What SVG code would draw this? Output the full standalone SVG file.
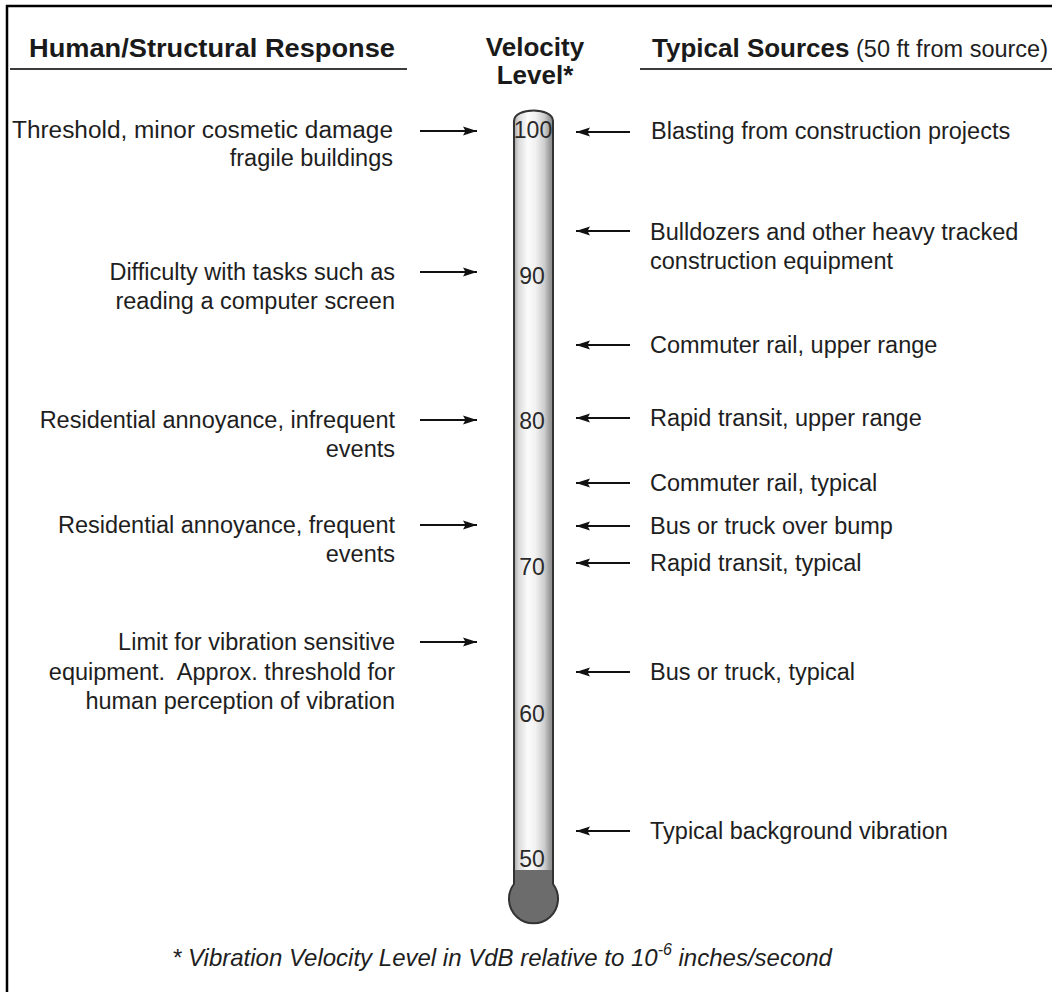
<svg xmlns="http://www.w3.org/2000/svg" width="1052" height="992" viewBox="0 0 1052 992">
  <style>
    .hd { font-family: "Liberation Sans", Arial, sans-serif; font-size: 26px; font-weight: bold; fill: #1a1a1a; }
    .tx { font-family: "Liberation Sans", Arial, sans-serif; font-size: 23.5px; fill: #1e1e1e; }
    .lt { text-anchor: end; }
    .num { font-family: "Liberation Sans", Arial, sans-serif; font-size: 23px; fill: #2a2a2a; text-anchor: middle; }
    .note { font-family: "Liberation Sans", Arial, sans-serif; font-size: 24px; font-style: italic; fill: #1e1e1e; }
    .rule { stroke: #3c3c3c; stroke-width: 2.2; }
    .arrow { stroke: #111; stroke-width: 2; fill: none; marker-end: url(#head); }
  </style>
  <defs>
    <marker id="head" markerUnits="userSpaceOnUse" markerWidth="15" markerHeight="11" refX="14" refY="5.5" orient="auto">
      <path d="M0,1 L14,5.5 L0,10 L2.5,5.5 Z" fill="#111"/>
    </marker>
    <linearGradient id="glass" gradientUnits="userSpaceOnUse" x1="514" y1="0" x2="553" y2="0">
      <stop offset="0" stop-color="#a4a4a4"/>
      <stop offset="0.12" stop-color="#dadada"/>
      <stop offset="0.35" stop-color="#fbfbfb"/>
      <stop offset="0.55" stop-color="#f1f1f1"/>
      <stop offset="0.78" stop-color="#cdcdcd"/>
      <stop offset="0.92" stop-color="#9a9a9a"/>
      <stop offset="1" stop-color="#8a8a8a"/>
    </linearGradient>
    <clipPath id="tubeClip">
      <path d="M514,121 C514,107 553,107 553,121 L553,884 A24.5,24.5 0 1 1 514,884 Z"/>
    </clipPath>
  </defs>

  <rect width="1052" height="992" fill="#fff"/>

  <!-- frame edges -->
  <g id="frame" stroke="#000" stroke-width="2.5">
    <line x1="6" y1="6" x2="1052" y2="6"/>
    <line x1="7" y1="5" x2="7" y2="992"/>
  </g>

  <!-- column headings -->
  <g id="header-response">
    <text class="hd lt" x="395" y="57" textLength="366" lengthAdjust="spacingAndGlyphs">Human/Structural Response</text>
    <line class="rule" x1="10" y1="69" x2="407" y2="69"/>
  </g>
  <g id="header-level">
    <text class="hd" x="535" y="56" text-anchor="middle">Velocity</text>
    <text class="hd" x="535" y="84" text-anchor="middle">Level*</text>
  </g>
  <g id="header-sources">
    <text class="hd" x="652" y="57">Typical Sources<tspan class="tx" style="font-weight:normal"> (50 ft from source)</tspan></text>
    <line class="rule" x1="640" y1="69" x2="1052" y2="69"/>
  </g>

  <!-- thermometer scale -->
  <g id="thermometer">
    <path d="M514,121 C514,107 553,107 553,121 L553,884 A24.5,24.5 0 1 1 514,884 Z" fill="url(#glass)"/>
    <rect x="500" y="870" width="70" height="70" fill="#6c6c6c" clip-path="url(#tubeClip)"/>
    <path d="M514,121 C514,107 553,107 553,121 L553,884 A24.5,24.5 0 1 1 514,884 Z" fill="none" stroke="#333" stroke-width="2"/>
    <text class="num" x="533" y="138">100</text>
    <text class="num" x="532" y="284">90</text>
    <text class="num" x="532" y="429">80</text>
    <text class="num" x="532" y="575">70</text>
    <text class="num" x="532" y="722">60</text>
    <text class="num" x="532" y="867">50</text>
  </g>

  <!-- human / structural responses -->
  <g id="resp-threshold">
    <text class="tx lt" x="393" y="138" textLength="381" lengthAdjust="spacingAndGlyphs">Threshold, minor cosmetic damage</text>
    <text class="tx lt" x="393" y="166">fragile buildings</text>
  </g>
  <g id="resp-difficulty">
    <text class="tx lt" x="395" y="280">Difficulty with tasks such as</text>
    <text class="tx lt" x="395" y="309">reading a computer screen</text>
  </g>
  <g id="resp-infrequent">
    <text class="tx lt" x="395" y="428">Residential annoyance, infrequent</text>
    <text class="tx lt" x="395" y="457">events</text>
  </g>
  <g id="resp-frequent">
    <text class="tx lt" x="395" y="533">Residential annoyance, frequent</text>
    <text class="tx lt" x="395" y="562">events</text>
  </g>
  <g id="resp-limit">
    <text class="tx lt" x="395" y="650">Limit for vibration sensitive</text>
    <text class="tx lt" x="395" y="680">equipment.&#160; Approx. threshold for</text>
    <text class="tx lt" x="395" y="709">human perception of vibration</text>
  </g>

  <!-- typical sources -->
  <g id="src-blasting">
    <text class="tx" x="651" y="139">Blasting from construction projects</text>
  </g>
  <g id="src-bulldozers">
    <text class="tx" x="650" y="240">Bulldozers and other heavy tracked</text>
    <text class="tx" x="650" y="269">construction equipment</text>
  </g>
  <g id="src-commuter-upper">
    <text class="tx" x="650" y="353">Commuter rail, upper range</text>
  </g>
  <g id="src-rapid-upper">
    <text class="tx" x="650" y="426">Rapid transit, upper range</text>
  </g>
  <g id="src-commuter-typical">
    <text class="tx" x="650" y="491">Commuter rail, typical</text>
  </g>
  <g id="src-bus-bump">
    <text class="tx" x="650" y="534">Bus or truck over bump</text>
  </g>
  <g id="src-rapid-typical">
    <text class="tx" x="650" y="571">Rapid transit, typical</text>
  </g>
  <g id="src-bus-typical">
    <text class="tx" x="650" y="680">Bus or truck, typical</text>
  </g>
  <g id="src-background">
    <text class="tx" x="650" y="839">Typical background vibration</text>
  </g>

  <!-- pointers onto the scale -->
  <g id="connectors">
    <line class="arrow" x1="420" y1="131" x2="477" y2="131"/>
    <line class="arrow" x1="420" y1="272" x2="477" y2="272"/>
    <line class="arrow" x1="420" y1="420" x2="477" y2="420"/>
    <line class="arrow" x1="420" y1="525" x2="477" y2="525"/>
    <line class="arrow" x1="420" y1="642" x2="477" y2="642"/>

    <line class="arrow" x1="630" y1="132" x2="576" y2="132"/>
    <line class="arrow" x1="630" y1="231" x2="576" y2="231"/>
    <line class="arrow" x1="630" y1="345" x2="576" y2="345"/>
    <line class="arrow" x1="630" y1="418" x2="576" y2="418"/>
    <line class="arrow" x1="630" y1="483" x2="576" y2="483"/>
    <line class="arrow" x1="630" y1="526" x2="576" y2="526"/>
    <line class="arrow" x1="630" y1="563" x2="576" y2="563"/>
    <line class="arrow" x1="630" y1="672" x2="576" y2="672"/>
    <line class="arrow" x1="630" y1="831" x2="576" y2="831"/>
  </g>

  <!-- footnote -->
  <g id="footnote">
    <text class="note" x="172" y="966">* Vibration Velocity Level in VdB relative to 10<tspan font-size="16" dy="-11">-6</tspan><tspan dy="11"> inches/second</tspan></text>
  </g>
</svg>
